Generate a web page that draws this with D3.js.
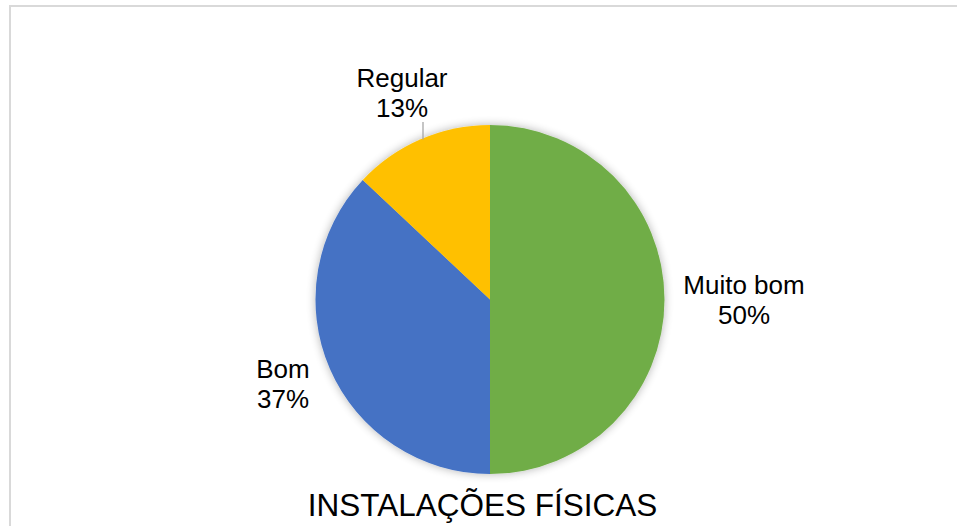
<!DOCTYPE html>
<html>
<head>
<meta charset="utf-8">
<script src="https://cdn.jsdelivr.net/npm/d3@7"></script>
<style>
  html, body { margin: 0; padding: 0; background: #fff; }
  svg { display: block; }
</style>
</head>
<body>
<div id="chart"></div>
<script>
// Chart data
const categories = ["Muito bom", "Bom", "Regular"];
const values = [50, 37, 13];
const colors = ["#70AD47", "#4472C4", "#FFC000"];
const title = "INSTALAÇÕES FÍSICAS";

const width = 957, height = 526;
const cx = 490, cy = 299.5, radius = 174.5;

const svg = d3.select("#chart").append("svg")
    .attr("width", width)
    .attr("height", height);

// Soft shadow around the pie
const defs = svg.append("defs");
const filter = defs.append("filter")
    .attr("id", "shadow")
    .attr("x", "-20%").attr("y", "-20%")
    .attr("width", "140%").attr("height", "140%");
filter.append("feGaussianBlur")
    .attr("in", "SourceAlpha")
    .attr("stdDeviation", 5);
filter.append("feComponentTransfer")
    .append("feFuncA").attr("type", "linear").attr("slope", 0.3);
const merge = filter.append("feMerge");
merge.append("feMergeNode");
merge.append("feMergeNode").attr("in", "SourceGraphic");

// Chart area border
svg.append("rect")
    .attr("x", 10)
    .attr("y", 6)
    .attr("width", width + 20)
    .attr("height", height + 20)
    .attr("fill", "none")
    .attr("stroke", "#d9d9d9")
    .attr("stroke-width", 2);

const data = categories.map((c, i) => ({ name: c, value: values[i], color: colors[i] }));

const pie = d3.pie()
    .value(d => d.value)
    .sort(null);

const arc = d3.arc()
    .innerRadius(0)
    .outerRadius(radius);

const arcs = pie(data);

const g = svg.append("g")
    .attr("transform", `translate(${cx},${cy})`);

g.append("g")
    .attr("filter", "url(#shadow)")
    .selectAll("path")
    .data(arcs)
    .enter()
    .append("path")
    .attr("d", arc)
    .attr("fill", d => d.data.color);

// Label placement (relative to pie centre)
const labelPos = {
    "Muito bom": [254, -6],
    "Bom": [-207, 78.5],
    "Regular": [-88, -212.5]
};

const labels = g.append("g")
    .selectAll("text")
    .data(arcs)
    .enter()
    .append("text")
    .attr("text-anchor", "middle")
    .attr("font-family", "Arial, 'Liberation Sans', sans-serif")
    .attr("font-size", "26px")
    .attr("fill", "#000");

labels.append("tspan")
    .attr("x", d => labelPos[d.data.name][0])
    .attr("y", d => labelPos[d.data.name][1])
    .text(d => d.data.name);

labels.append("tspan")
    .attr("x", d => labelPos[d.data.name][0])
    .attr("dy", 30)
    .text(d => Math.round(d.data.value) + "%");

// Leader line for the small slice
const lx = -67;
g.append("line")
    .attr("x1", lx)
    .attr("y1", -177.5)
    .attr("x2", lx)
    .attr("y2", -Math.sqrt(radius * radius - lx * lx) + 1)
    .attr("stroke", "#a6a6a6")
    .attr("stroke-width", 1.3);

// Title
svg.append("text")
    .attr("x", 482.5)
    .attr("y", 516)
    .attr("text-anchor", "middle")
    .attr("font-family", "Arial, 'Liberation Sans', sans-serif")
    .attr("font-size", "31.5px")
    .attr("fill", "#000")
    .text(title);
</script>
</body>
</html>
